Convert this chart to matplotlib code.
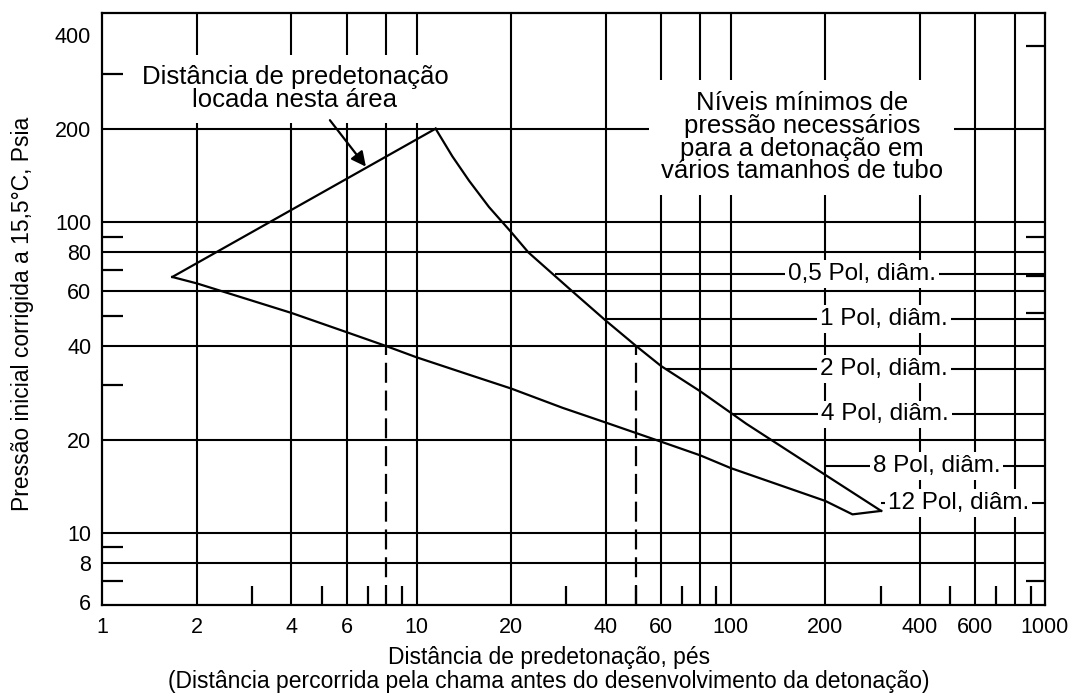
import matplotlib
matplotlib.use("Agg")
import matplotlib.pyplot as plt
from matplotlib.ticker import FixedLocator, NullFormatter, NullLocator

plt.rcParams['font.family'] = ['Liberation Sans', 'DejaVu Sans']

# ---------------- data ----------------
x_ticks = [1, 2, 4, 6, 10, 20, 40, 60, 100, 200, 400, 600, 1000]
x_tick_labels = ["1", "2", "4", "6", "10", "20", "40", "60", "100", "200", "400", "600", "1000"]
y_ticks = [6, 8, 10, 20, 40, 60, 80, 100, 200, 400]
y_tick_labels = ["6", "8", "10", "20", "40", "60", "80", "100", "200", "400"]

x_grid = [2, 4, 6, 10, 20, 40, 60, 80, 100, 200, 400, 600, 800]
y_grid = [8, 10, 20, 40, 60, 80, 100, 200]
x_minor = [3, 5, 7, 9, 30, 50, 70, 90, 300, 500, 700, 900]
y_minor_left = [7, 9, 30, 50, 70, 90, 300]
y_minor_right = [7, 51, 67, 90, 370]

# partial solid grid line at x = 8 (above the lower curve only)
partial_grid_x = [8]
partial_grid_from = [40]

# upper-left boundary (straight line)
upper_left_x = [1.67, 11.5]
upper_left_y = [66.7, 200]

# lower boundary
lower_x = [1.67, 2, 4, 6, 8, 10, 14.9, 20, 29.2, 40, 60, 80, 100, 200, 244, 301]
lower_y = [66.7, 63.6, 51.1, 44.3, 40, 36.8, 32.2, 29.2, 25.3, 22.7, 19.7, 17.8, 16.2, 12.7, 11.5, 11.8]

# minimum pressure curve (right boundary)
upper_x = [11.5, 13.0, 14.7, 17.0, 20, 22.7, 31.3, 40, 50, 60, 80, 100, 112, 200, 301]
upper_y = [200, 163, 136, 112, 93, 80, 60, 48.3, 40, 34.5, 28.6, 24.4, 22.5, 15.4, 11.8]

# dashed verticals
dashed_x = [8, 50]
dashed_top = [40, 40]

# pipe-size labels
pipe_labels = ["0,5 Pol, diâm.", "1 Pol, diâm.", "2 Pol, diâm.",
               "4 Pol, diâm.", "8 Pol, diâm.", "12 Pol, diâm."]
pipe_levels = [68, 49, 33.7, 24.1, 16.5, 12.5]
pipe_line_start = [27.5, 40, 62, 102, 200, 301]
pipe_label_x = [261, 308, 308, 310, 451, 532]

# arrow
arrow_tail = (5.3, 213)
arrow_head = (6.9, 151)

X_MIN, X_MAX = 1, 1000
Y_MIN, Y_MAX = 5.9, 470

# ---------------- figure ----------------
W, H = 1068, 695
fig = plt.figure(figsize=(W / 100, H / 100), dpi=100)
L, R, T, B = 102.3, 1045, 13.3, 604.5
ax = fig.add_axes([L / W, (H - B) / H, (R - L) / W, (B - T) / H])
ax.set_xscale('log')
ax.set_yscale('log')
ax.set_xlim(X_MIN, X_MAX)
ax.set_ylim(Y_MIN, Y_MAX)

LW = 1.6
for s in ax.spines.values():
    s.set_linewidth(LW)
    s.set_color('black')

# ticks
ax.xaxis.set_major_locator(FixedLocator(x_ticks))
ax.set_xticklabels(x_tick_labels)
ax.yaxis.set_major_locator(FixedLocator(y_ticks))
ax.set_yticklabels(y_tick_labels)
ax.xaxis.set_minor_locator(FixedLocator(x_minor))
ax.xaxis.set_minor_formatter(NullFormatter())
ax.yaxis.set_minor_locator(FixedLocator(y_minor_left))
ax.yaxis.set_minor_formatter(NullFormatter())
ax.tick_params(which='major', length=0, labelsize=15.5, colors='black')
ax.tick_params(axis='x', which='major', pad=9)
ax.tick_params(axis='y', which='major', pad=8)
ax.tick_params(axis='x', which='minor', direction='in', length=14, width=LW,
               bottom=True, top=False)
ax.tick_params(axis='y', which='minor', direction='in', length=15, width=LW,
               left=True, right=False)

ax2 = ax.twinx()
ax2.set_yscale('log')
ax2.set_ylim(Y_MIN, Y_MAX)
ax2.yaxis.set_major_locator(NullLocator())
ax2.yaxis.set_minor_locator(FixedLocator(y_minor_right))
ax2.yaxis.set_minor_formatter(NullFormatter())
ax2.tick_params(axis='y', which='minor', direction='in', length=14, width=LW,
                right=True, left=False, labelright=False)
for s in ax2.spines.values():
    s.set_visible(False)

# grid
GLW = 1.5
for gx in x_grid:
    ax.axvline(gx, color='black', lw=GLW, zorder=1)
for gy in y_grid:
    ax.axhline(gy, color='black', lw=GLW, zorder=1)
ax.vlines(partial_grid_x, partial_grid_from, Y_MAX, color='black', lw=GLW, zorder=1)

# dashed verticals
ax.vlines(dashed_x, Y_MIN, dashed_top, color='black', lw=LW,
          linestyles=[(0, (9, 3.5))], zorder=2)

# pipe label lines
ax.hlines(pipe_levels, pipe_line_start, X_MAX, color='black', lw=GLW, zorder=1)

# curves
ax.plot(upper_left_x, upper_left_y, color='black', lw=LW, zorder=5)
ax.plot(lower_x, lower_y, color='black', lw=LW, zorder=5)
ax.plot(upper_x, upper_y, color='black', lw=LW, zorder=5)

# pipe labels
for lab, lx, ly in zip(pipe_labels, pipe_label_x, pipe_levels):
    ax.text(lx, ly, lab, ha='center', va='center', fontsize=17.5, zorder=4,
            bbox=dict(boxstyle='square,pad=0.12', fc='white', ec='none'))

# annotation texts
ax.text(0.2044, 0.872, "Distância de predetonação\nlocada nesta área",
        transform=ax.transAxes, ha='center', va='center', fontsize=18.5,
        linespacing=0.95, zorder=4,
        bbox=dict(boxstyle='square,pad=0.4', fc='white', ec='none'))
ax.text(0.742, 0.79, "Níveis mínimos de\npressão necessários\npara a detonação em\nvários tamanhos de tubo",
        transform=ax.transAxes, ha='center', va='center', fontsize=18.5,
        linespacing=0.93, zorder=4,
        bbox=dict(boxstyle='square,pad=0.45', fc='white', ec='none'))

ax.annotate('', xy=arrow_head, xytext=arrow_tail,
            arrowprops=dict(arrowstyle='-|>', color='black', lw=LW,
                            mutation_scale=22, shrinkA=0, shrinkB=0),
            zorder=6)

# axis labels
ax.set_xlabel("Distância de predetonação, pés\n(Distância percorrida pela chama antes do desenvolvimento da detonação)",
              fontsize=16.5, linespacing=1.05)
ax.xaxis.label.set_va('center')
ax.xaxis.set_label_coords(0.474, -0.110)
ax.set_ylabel("Pressão inicial corrigida a 15,5°C, Psia", fontsize=16.5)
ax.yaxis.label.set_va('center')
ax.yaxis.set_label_coords(-0.085, 0.491)

fig.savefig("out.png", dpi=100, facecolor='white')
